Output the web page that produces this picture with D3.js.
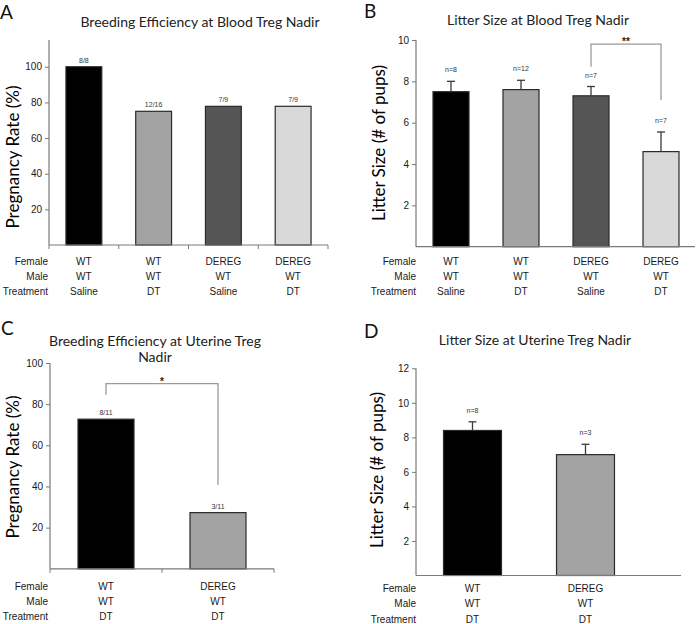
<!DOCTYPE html>
<html>
<head>
<meta charset="utf-8">
<script src="https://cdn.jsdelivr.net/npm/d3@7"></script>
<style>
  html, body { margin: 0; padding: 0; background: #fff; }
  svg { display: block; }
</style>
</head>
<body>
<svg id="chart" width="696" height="624"></svg>
<script>
// ---------------- DATA ----------------
const rowLabels = ["Female", "Male", "Treatment"];

// Panel A
const aFemale = ["WT", "WT", "DEREG", "DEREG"];
const aMale = ["WT", "WT", "WT", "WT"];
const aTreatment = ["Saline", "DT", "Saline", "DT"];
const aValues = [100, 75, 77.8, 77.8];
const aCounts = ["8/8", "12/16", "7/9", "7/9"];
const aTicks = [20, 40, 60, 80, 100];

// Panel B
const bFemale = ["WT", "WT", "DEREG", "DEREG"];
const bMale = ["WT", "WT", "WT", "WT"];
const bTreatment = ["Saline", "DT", "Saline", "DT"];
const bValues = [7.5, 7.6, 7.3, 4.6];
const bErrors = [0.5, 0.45, 0.45, 0.95];
const bN = ["n=8", "n=12", "n=7", "n=7"];
const bTicks = [2, 4, 6, 8, 10];
const bBracket = { from: 2, to: 3, top: 9.8, left: 8.7, right: 7.1, label: "**" };

// Panel C
const cFemale = ["WT", "DEREG"];
const cMale = ["WT", "WT"];
const cTreatment = ["DT", "DT"];
const cValues = [72.7, 27.3];
const cCounts = ["8/11", "3/11"];
const cTicks = [20, 40, 60, 80, 100];
const cBracket = { from: 0, to: 1, top: 90, left: 84.6, right: 40.8, label: "*" };

// Panel D
const dFemale = ["WT", "DEREG"];
const dMale = ["WT", "WT"];
const dTreatment = ["DT", "DT"];
const dValues = [8.4, 7.0];
const dErrors = [0.5, 0.6];
const dN = ["n=8", "n=3"];
const dTicks = [2, 4, 6, 8, 10, 12];

const colors4 = ["#000000", "#a3a3a3", "#555555", "#d9d9d9"];
const colors2 = ["#000000", "#a3a3a3"];

// ---------------- DRAW ----------------
const svg = d3.select("#chart");
const TITLE_FONT = "Lato, 'Open Sans', sans-serif";
const ARIAL = "'Liberation Sans', Arial, sans-serif";
const AXIS_COLOR = "#7a7a7a";

function panel(cfg) {
  const g = svg.append("g");
  const n = cfg.values.length;
  const idx = d3.range(n);
  const x = d3.scaleBand().domain(idx).range([cfg.x0, cfg.x1])
    .paddingInner(cfg.pad).paddingOuter(cfg.pad / 2);
  const y = d3.scaleLinear().domain(cfg.yDomain).range([cfg.yBottom, cfg.yTop]);

  // panel letter
  g.append("text").attr("x", cfg.letterX).attr("y", cfg.letterY)
    .attr("font-family", TITLE_FONT).attr("font-size", 19).attr("fill", "#111")
    .text(cfg.letter);

  // title
  cfg.title.forEach((t, i) => {
    g.append("text").attr("x", cfg.titleX).attr("y", cfg.titleY + i * 16.5)
      .attr("text-anchor", "middle").attr("font-family", TITLE_FONT)
      .attr("font-size", 14).attr("fill", "#222").text(t);
  });

  // y axis
  const yAxis = d3.axisLeft(y).tickValues(cfg.ticks).tickSize(4).tickPadding(3)
    .tickFormat(d3.format("d"));
  const ya = g.append("g").attr("transform", `translate(${cfg.x0},0)`).call(yAxis);
  ya.select(".domain").remove();
  ya.selectAll(".tick line").attr("stroke", AXIS_COLOR);
  ya.selectAll(".tick text").attr("font-family", ARIAL).attr("font-size", 10)
    .attr("fill", "#1a1a1a");
  g.append("line").attr("x1", cfg.x0).attr("x2", cfg.x0)
    .attr("y1", y(cfg.yDomain[0])).attr("y2", y(cfg.yDomain[1]))
    .attr("stroke", AXIS_COLOR).attr("stroke-width", 1.2);

  // y label
  g.append("text")
    .attr("transform", `translate(${cfg.yLabelX},${cfg.yLabelY}) rotate(-90)`)
    .attr("text-anchor", "middle").attr("dominant-baseline", "central")
    .attr("font-family", TITLE_FONT).attr("font-size", 17).attr("fill", "#000")
    .text(cfg.yLabel);

  // bars
  g.selectAll("rect.bar").data(cfg.values).join("rect").attr("class", "bar")
    .attr("x", (d, i) => x(i)).attr("width", x.bandwidth())
    .attr("y", d => y(d)).attr("height", d => y(0) - y(d))
    .attr("fill", (d, i) => cfg.colors[i]).attr("stroke", "#2a2a2a").attr("stroke-width", 1.2);

  // error bars
  if (cfg.errors) {
    cfg.values.forEach((v, i) => {
      const cx = x(i) + x.bandwidth() / 2;
      const top = y(v + cfg.errors[i]);
      g.append("line").attr("x1", cx).attr("x2", cx).attr("y1", y(v)).attr("y2", top)
        .attr("stroke", "#3a3a3a").attr("stroke-width", 1.3);
      g.append("line").attr("x1", cx - 4).attr("x2", cx + 4).attr("y1", top).attr("y2", top)
        .attr("stroke", "#3a3a3a").attr("stroke-width", 1.3);
    });
  }

  // labels above bars
  cfg.labels.forEach((t, i) => {
    const cx = x(i) + x.bandwidth() / 2;
    const top = cfg.errors ? y(cfg.values[i] + cfg.errors[i]) - 9 : y(cfg.values[i]) - 4;
    g.append("text").attr("x", cx).attr("y", top).attr("text-anchor", "middle")
      .attr("font-family", ARIAL).attr("font-size", 7).attr("fill", "#333").text(t);
  });

  // x axis
  g.append("line").attr("x1", cfg.x0).attr("x2", cfg.xAxisEnd)
    .attr("y1", y(0)).attr("y2", y(0)).attr("stroke", AXIS_COLOR).attr("stroke-width", 1.2);
  if (cfg.xTicks) {
    const bounds = d3.range(n + 1).map(i => cfg.x0 + i * x.step());
    g.selectAll("line.xt").data(bounds).join("line").attr("class", "xt")
      .attr("x1", d => d).attr("x2", d => d).attr("y1", y(0)).attr("y2", y(0) + 4)
      .attr("stroke", AXIS_COLOR);
  }

  // bracket
  if (cfg.bracket) {
    const b = cfg.bracket;
    const lx = x(b.from) + x.bandwidth() / 2, rx = x(b.to) + x.bandwidth() / 2;
    g.append("path")
      .attr("d", `M${lx},${y(b.left)}V${y(b.top)}H${rx}V${y(b.right)}`)
      .attr("fill", "none").attr("stroke", "#9a9a9a").attr("stroke-width", 1.3);
    g.append("text").attr("x", (lx + rx) / 2).attr("y", y(b.top) + 1)
      .attr("text-anchor", "middle").attr("font-family", ARIAL).attr("font-weight", "bold")
      .attr("font-size", 10).attr("fill", "#222").text(b.label);
  }

  // table
  const rows = [cfg.female, cfg.male, cfg.treatment];
  rows.forEach((r, ri) => {
    const ty = cfg.tableY + ri * cfg.rowGap;
    g.append("text").attr("x", cfg.rowLabelX).attr("y", ty).attr("text-anchor", "end")
      .attr("font-family", ARIAL).attr("font-size", 10).attr("fill", "#1a1a1a")
      .text(rowLabels[ri]);
    r.forEach((t, i) => {
      g.append("text").attr("x", x(i) + x.bandwidth() / 2).attr("y", ty)
        .attr("text-anchor", "middle").attr("font-family", ARIAL).attr("font-size", 10)
        .attr("fill", "#1a1a1a").text(t);
    });
  });
}

panel({
  letter: "A", letterX: 0, letterY: 19,
  title: ["Breeding Efficiency at Blood Treg Nadir"], titleX: 200, titleY: 27,
  values: aValues, labels: aCounts, colors: colors4, ticks: aTicks,
  x0: 49, x1: 328, xAxisEnd: 328, pad: 0.486, xTicks: true,
  yDomain: [0, 115], yBottom: 245, yTop: 40,
  yLabel: "Pregnancy Rate (%)", yLabelX: 12, yLabelY: 157,
  female: aFemale, male: aMale, treatment: aTreatment,
  tableY: 264.5, rowGap: 15, rowLabelX: 48
});

panel({
  letter: "B", letterX: 364, letterY: 18,
  title: ["Litter Size at Blood Treg Nadir"], titleX: 538, titleY: 25,
  values: bValues, errors: bErrors, labels: bN, colors: colors4, ticks: bTicks,
  x0: 416, x1: 696, xAxisEnd: 695, pad: 0.486, xTicks: false,
  yDomain: [0, 10], yBottom: 246.7, yTop: 40,
  yLabel: "Litter Size (# of pups)", yLabelX: 378, yLabelY: 143,
  bracket: bBracket,
  female: bFemale, male: bMale, treatment: bTreatment,
  tableY: 264.5, rowGap: 15, rowLabelX: 416
});

panel({
  letter: "C", letterX: 1, letterY: 335,
  title: ["Breeding Efficiency at Uterine Treg", "Nadir"], titleX: 155, titleY: 345.5,
  values: cValues, labels: cCounts, colors: colors2, ticks: cTicks,
  x0: 50, x1: 274, xAxisEnd: 274, pad: 0.5, xTicks: true,
  yDomain: [0, 100], yBottom: 568.8, yTop: 363,
  yLabel: "Pregnancy Rate (%)", yLabelX: 12, yLabelY: 467,
  bracket: cBracket,
  female: cFemale, male: cMale, treatment: cTreatment,
  tableY: 589.5, rowGap: 15, rowLabelX: 48
});

panel({
  letter: "D", letterX: 364, letterY: 338,
  title: ["Litter Size at Uterine Treg Nadir"], titleX: 535, titleY: 345,
  values: dValues, errors: dErrors, labels: dN, colors: colors2, ticks: dTicks,
  x0: 416, x1: 642, xAxisEnd: 681, pad: 0.487, xTicks: false,
  yDomain: [0, 12], yBottom: 575.5, yTop: 368.3,
  yLabel: "Litter Size (# of pups)", yLabelX: 376, yLabelY: 470,
  female: dFemale, male: dMale, treatment: dTreatment,
  tableY: 591.5, rowGap: 15.5, rowLabelX: 416
});
</script>
</body>
</html>
